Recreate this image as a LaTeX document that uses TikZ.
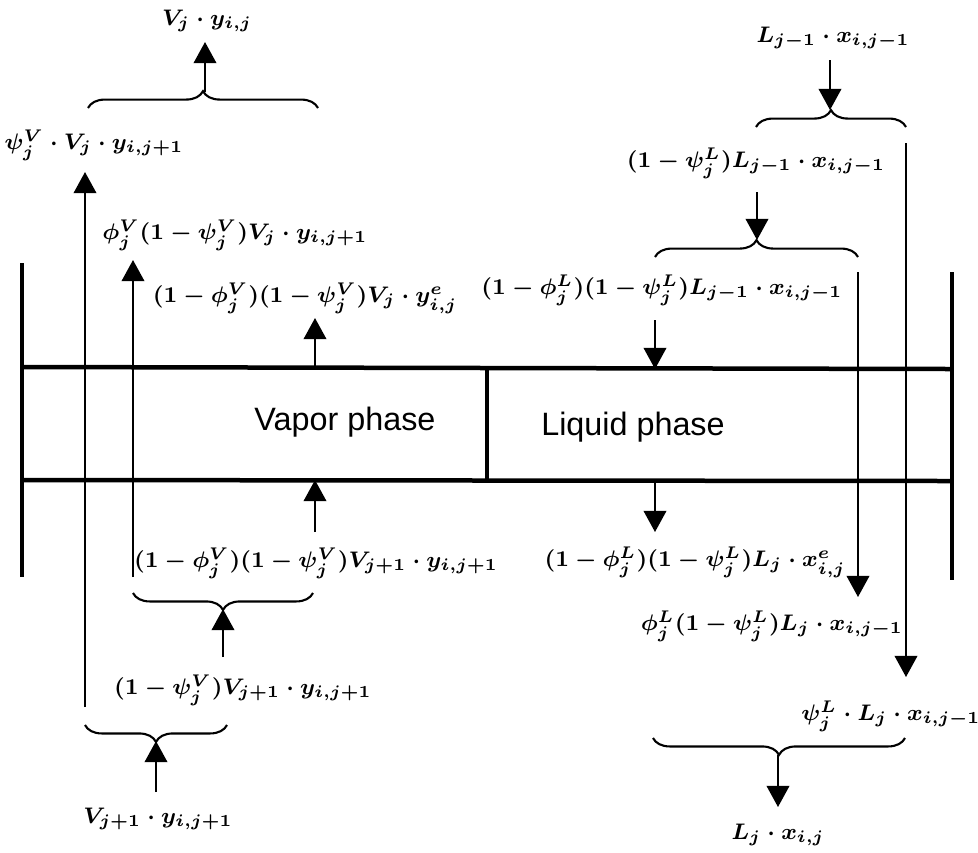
\documentclass[tikz,border=0pt]{standalone}
\usepackage{amsmath,amssymb}
\usepackage{fontspec}
\newfontfamily\phasefont{Liberation Sans}
\usepackage{tikz}
\usetikzlibrary{arrows.meta,decorations.pathreplacing,calc}

\begin{document}
\begin{tikzpicture}[x=0.0125cm,y=-0.0125cm,
  wall/.style={line width=1.6pt},
  stream/.style={line width=0.75pt},
  flow/.style={stream,-{Triangle[width=8pt,length=7.5pt]}},
  brc/.style={stream,decorate,decoration={brace,amplitude=6pt}},
  lbl/.style={font=\fontsize{8.4}{10}\selectfont\boldmath,inner sep=1pt},
  phase/.style={font=\fontsize{11.5}{14}\selectfont\phasefont}]
  \useasboundingbox (0,0) rectangle (978,852);

  % tray: two phases between the walls
  \draw[wall] (22,263) -- (22,577);
  \draw[wall] (952,272) -- (952,580);
  \draw[wall] (22,367) coordinate (trayTL) -- (952,369) coordinate (trayTR);
  \draw[wall] (22,480) coordinate (trayBL) -- (952,481) coordinate (trayBR);
  \draw[line width=1.1pt] (487,368) -- (487,480);
  \node[phase] (vap) at (345,422) {Vapor phase};
  \node[phase] (liq) at (633,427) {Liquid phase};

  % vapour streams
  \node[lbl] (vout)   at (207,21)  {$V_j\cdot y_{i,j}$};
  \node[lbl] (vside)  at (94,145)  {$\psi_j^V\cdot V_j\cdot y_{i,j+1}$};
  \node[lbl] (vent)   at (235,235) {$\phi_j^V(1-\psi_j^V)V_j\cdot y_{i,j+1}$};
  \node[lbl] (vleave) at (305,298) {$(1-\phi_j^V)(1-\psi_j^V)V_j\cdot y^e_{i,j}$};
  \node[lbl] (vin)    at (316,563) {$(1-\phi_j^V)(1-\psi_j^V)V_{j+1}\cdot y_{i,j+1}$};
  \node[lbl] (vby)    at (243,690) {$(1-\psi_j^V)V_{j+1}\cdot y_{i,j+1}$};
  \node[lbl] (vfeed)  at (158,819) {$V_{j+1}\cdot y_{i,j+1}$};

  \coordinate (vtopA) at (88,108);  \coordinate (vtopB) at (318,108);
  \coordinate (vtopC) at (205,92);  \coordinate (vtopT) at (205,42);
  \draw[brc] (vtopA) -- (vtopB);
  \draw[flow] (vtopC) -- (vtopT);

  \coordinate (vsideS) at (85,707); \coordinate (vsideT) at (85,172);
  \draw[flow] (vsideS) -- (vsideT);
  \coordinate (ventS) at (133,577); \coordinate (ventT) at (133,260);
  \draw[flow] (ventS) -- (ventT);
  \coordinate (vleaveT) at (315,318);
  \draw[flow] (trayTL -| vleaveT) -- (vleaveT);
  \coordinate (vinS) at (315,532);
  \draw[flow] (vinS) -- (vinS |- trayBL);

  \coordinate (vbyA) at (313,593);  \coordinate (vbyB) at (133,593);
  \coordinate (vbyC) at (223,609);  \coordinate (vbyS) at (223,657);
  \draw[brc] (vbyA) -- (vbyB);
  \draw[flow] (vbyS) -- (vbyC);
  \coordinate (vfeedA) at (227,725); \coordinate (vfeedB) at (85,725);
  \coordinate (vfeedC) at (156,741); \coordinate (vfeedS) at (156,792);
  \draw[brc] (vfeedA) -- (vfeedB);
  \draw[flow] (vfeedS) -- (vfeedC);

  % liquid streams
  \node[lbl] (lfeed)  at (833,38)  {$L_{j-1}\cdot x_{i,j-1}$};
  \node[lbl] (lby)    at (756,163) {$(1-\psi_j^L)L_{j-1}\cdot x_{i,j-1}$};
  \node[lbl] (lin)    at (662,290) {$(1-\phi_j^L)(1-\psi_j^L)L_{j-1}\cdot x_{i,j-1}$};
  \node[lbl] (lleave) at (695,562) {$(1-\phi_j^L)(1-\psi_j^L)L_j\cdot x^e_{i,j}$};
  \node[lbl] (lent)   at (772,626) {$\phi_j^L(1-\psi_j^L)L_j\cdot x_{i,j-1}$};
  \node[lbl] (lside)  at (891,716) {$\psi_j^L\cdot L_j\cdot x_{i,j-1}$};
  \node[lbl] (lout)   at (778,835) {$L_j\cdot x_{i,j}$};

  \coordinate (lfeedS) at (830,60);  \coordinate (lfeedC) at (830,110);
  \coordinate (lfeedA) at (756,127); \coordinate (lfeedB) at (906,127);
  \draw[flow] (lfeedS) -- (lfeedC);
  \draw[brc] (lfeedA) -- (lfeedB);
  \coordinate (lbyS) at (757,192);   \coordinate (lbyC) at (757,240);
  \coordinate (lbyA) at (655,257);   \coordinate (lbyB) at (858,257);
  \draw[flow] (lbyS) -- (lbyC);
  \draw[brc] (lbyA) -- (lbyB);

  \coordinate (lsideS) at (906,143); \coordinate (lsideT) at (906,677);
  \draw[flow] (lsideS) -- (lsideT);
  \coordinate (lentS) at (858,272);  \coordinate (lentT) at (858,597);
  \draw[flow] (lentS) -- (lentT);
  \coordinate (linS) at (655,320);
  \draw[flow] (linS) -- (linS |- trayTR);
  \coordinate (lleaveT) at (655,532);
  \draw[flow] (trayBR -| lleaveT) -- (lleaveT);

  \coordinate (loutA) at (905,738);  \coordinate (loutB) at (653,738);
  \coordinate (loutC) at (778,755);  \coordinate (loutT) at (778,807);
  \draw[brc] (loutA) -- (loutB);
  \draw[flow] (loutC) -- (loutT);
\end{tikzpicture}
\end{document}
